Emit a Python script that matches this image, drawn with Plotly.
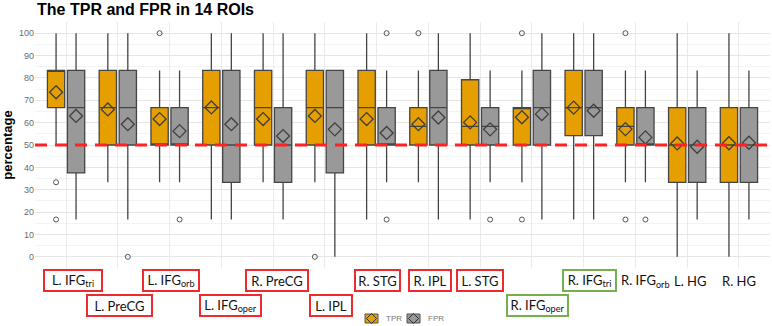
import plotly.graph_objects as go
import numpy as np

rois = ["L. IFG<sub>tri</sub>", "L. PreCG", "L. IFG<sub>orb</sub>", "L. IFG<sub>oper</sub>",
        "R. PreCG", "L. IPL", "R. STG", "R. IPL", "L. STG", "R. IFG<sub>oper</sub>",
        "R. IFG<sub>tri</sub>", "R. IFG<sub>orb</sub>", "L. HG", "R. HG"]

tpr_q1 = [66.67, 50, 50, 50, 50, 50, 50, 50, 50, 50, 54.17, 50, 33.33, 33.33]
tpr_median = [83.33, 66.67, 50, 66.67, 66.67, 66.67, 66.67, 58.33, 58.33, 66.67, 66.67, 58.33, 50, 50]
tpr_q3 = [83.33, 83.33, 66.67, 83.33, 83.33, 83.33, 83.33, 66.67, 79.17, 66.67, 83.33, 66.67, 66.67, 66.67]
tpr_low = [50, 33.33, 33.33, 16.67, 33.33, 33.33, 16.67, 33.33, 16.67, 33.33, 16.67, 33.33, 0, 0]
tpr_high = [100, 100, 83.33, 100, 100, 100, 100, 83.33, 100, 83.33, 100, 83.33, 100, 100]
tpr_mean = [73.6, 65.9, 61.6, 66.8, 61.6, 63.0, 61.6, 59.3, 60.1, 62.4, 66.7, 57.1, 50.7, 50.8]
tpr_out_roi = [0, 0, 2, 5, 7, 9, 9, 11, 11]
tpr_out_val = [33.33, 16.67, 100, 0, 100, 100, 16.67, 100, 16.67]

fpr_q1 = [37.5, 50, 50, 33.33, 33.33, 37.5, 50, 50, 50, 50, 54.17, 50, 33.33, 33.33]
fpr_median = [66.67, 66.67, 50, 50, 50, 66.67, 50, 66.67, 58.33, 66.67, 66.67, 50, 50, 50]
fpr_q3 = [83.33, 83.33, 66.67, 83.33, 66.67, 83.33, 66.67, 83.33, 66.67, 83.33, 83.33, 66.67, 66.67, 66.67]
fpr_low = [16.67, 16.67, 33.33, 16.67, 16.67, 0, 33.33, 16.67, 33.33, 16.67, 16.67, 33.33, 16.67, 16.67]
fpr_high = [100, 100, 83.33, 100, 100, 83.33, 83.33, 100, 83.33, 100, 100, 83.33, 83.33, 83.33]
fpr_mean = [63.0, 59.3, 56.2, 59.3, 54.0, 57.0, 55.4, 62.3, 57.0, 63.8, 65.3, 53.4, 49.2, 51.0]
fpr_out_roi = [1, 2, 6, 6, 8, 11]
fpr_out_val = [0, 16.67, 100, 16.67, 16.67, 16.67]

y_ticks = [0, 10, 20, 30, 40, 50, 60, 70, 80, 90, 100]
threshold = 50

# ---- layout / style settings ----
W, H = 772, 326
ML, MR, MT, MB = 35, 2, 22, 58
PW, PH = W - ML - MR, H - MT - MB


def px_x(px):
    return (px - ML) / PW


def px_y(py):
    return (H - MB - py) / PH


pos = np.arange(1, len(rois) + 1)
dodge = 0.193
bw = 0.334
label_row = [0, 1, 0, 1, 0, 1, 0, 0, 0, 1, 0, 0, 0, 0]
label_shift = [6.7, 1.5, 1, 9.5, 3.7, 5.8, 0.4, 1.9, -0.4, 5.3, 5.5, 10.5, 3.8, 0]
label_border = ["#ee2a2e"] * 9 + ["#74b14c"] * 2 + [None] * 3
label_width = [60, 67, 58, 63, 64, 44, 47, 44, 48, 63, 55, None, None, None]

fig = go.Figure()

series = [
    ("TPR", -dodge, "#E69F00", 365, tpr_q1, tpr_median, tpr_q3, tpr_low, tpr_high, tpr_mean, tpr_out_roi, tpr_out_val),
    ("FPR", dodge, "#999999", 407, fpr_q1, fpr_median, fpr_q3, fpr_low, fpr_high, fpr_mean, fpr_out_roi, fpr_out_val),
]

for name, off, col, key_px, q1, med, q3, lo, hi, mean, oroi, oval in series:
    xs = pos + off
    fig.add_trace(go.Box(
        name=name, x=xs, q1=q1, median=med, q3=q3, lowerfence=lo, upperfence=hi,
        width=bw, fillcolor=col, line=dict(color="#454545", width=1.3),
        whiskerwidth=0, boxpoints=False, showlegend=False,
    ))
    fig.add_trace(go.Scatter(
        x=xs, y=mean, mode="markers", showlegend=False, name=name + " mean",
        marker=dict(symbol="diamond-open", size=10, color="#3f3f3f", line=dict(width=1.3)),
    ))
    fig.add_trace(go.Scatter(
        x=[pos[i] + off for i in oroi], y=oval, mode="markers", showlegend=False, name=name + " outliers",
        marker=dict(symbol="circle-open", size=5, color="#555555", line=dict(width=1)),
    ))
    # legend key (box with mean diamond) + label
    cx, cy = key_px + 6.5, 318.5
    fig.add_shape(type="rect", xref="paper", yref="paper",
                  x0=px_x(key_px), x1=px_x(key_px + 13), y0=px_y(323), y1=px_y(314),
                  fillcolor=col, line=dict(color="#555555", width=1), layer="above")
    fig.add_shape(type="path", xref="paper", yref="paper",
                  path=(f"M {px_x(cx - 5)},{px_y(cy)} L {px_x(cx)},{px_y(cy - 5)} "
                        f"L {px_x(cx + 5)},{px_y(cy)} L {px_x(cx)},{px_y(cy + 5)} Z"),
                  line=dict(color="#333333", width=1), layer="above")
    fig.add_annotation(x=px_x(key_px + 19), y=px_y(cy), xref="paper", yref="paper",
                       xanchor="left", yanchor="middle", text=name, showarrow=False,
                       font=dict(family="Liberation Sans", size=8, color="#777777"))

fig.add_hline(y=threshold, line=dict(color="#ff2222", width=3, dash="12px,8px"), layer="above")

for i, lab in enumerate(rois):
    ann = dict(
        x=pos[i], xref="x", y=0, yref="paper", yanchor="middle",
        xshift=label_shift[i], yshift=-12.7 if label_row[i] == 0 else -37.5,
        text=lab, showarrow=False,
        font=dict(family="Lato", size=13, color="#111111"),
    )
    if label_border[i]:
        ann.update(bordercolor=label_border[i], borderwidth=2, borderpad=1,
                   width=label_width[i] - 6, height=17, bgcolor="white")
    fig.add_annotation(**ann)

fig.update_layout(
    width=W, height=H,
    margin=dict(l=ML, r=MR, t=MT, b=MB, autoexpand=False),
    paper_bgcolor="white", plot_bgcolor="white",
    title=dict(text="<b>The TPR and FPR in 14 ROIs</b>", x=0.048, xanchor="left",
               y=0.972, yanchor="middle",
               font=dict(family="Liberation Sans", size=16, color="black")),
    showlegend=False,
    xaxis=dict(range=[0.4, 14.6], tickvals=list(pos), showticklabels=False, automargin=False,
               showgrid=True, gridcolor="#ebebeb", gridwidth=1, zeroline=False, showline=False, ticks=""),
    yaxis=dict(range=[-5, 105], tickvals=y_ticks, showgrid=True, gridcolor="#e6e6e6", gridwidth=1,
               zeroline=False, showline=False, ticks="", automargin=False,
               tickfont=dict(family="Liberation Sans", size=9, color="#6b6b6b"),
               minor=dict(dtick=5, tick0=0, showgrid=True, gridcolor="#f3f3f3", gridwidth=1),
               title=dict(text="<b>percentage</b>", standoff=6,
                          font=dict(family="Liberation Sans", size=13, color="black"))),
)

fig.write_html("out.html")
